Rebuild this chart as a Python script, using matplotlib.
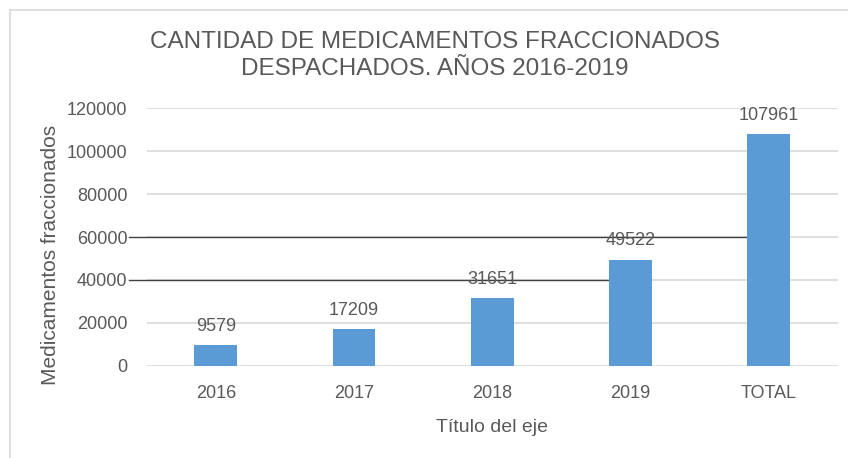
import matplotlib
import matplotlib.pyplot as plt
from matplotlib.patches import Rectangle

matplotlib.use("Agg")

categories = ["2016", "2017", "2018", "2019", "TOTAL"]
values = [9579, 17209, 31651, 49522, 107961]
y_ticks = [0, 20000, 40000, 60000, 80000, 100000, 120000]
# stray dark lines in the original: (level, category where they end)
dark_lines = [(60000, "TOTAL"), (40000, "2019")]

TEXT = "#595959"
NARROW = ["Liberation Sans Narrow", "Liberation Sans", "DejaVu Sans"]

fig = plt.figure(figsize=(8.48, 4.58), dpi=100)
ax = fig.add_axes([0.173, 0.201, 0.815, 0.563])

x = list(range(len(categories)))
bars = ax.bar(x, values, width=0.31, color="#5B9BD5", zorder=3)

ax.set_xlim(-0.5, len(categories) - 0.5)
ax.set_ylim(0, 120000)
ax.set_yticks(y_ticks)
ax.set_yticklabels([str(t) for t in y_ticks])
ax.set_xticks(x)
ax.set_xticklabels(categories)

for t in y_ticks:
    ax.axhline(t, color="#D9D9D9", lw=1.2, zorder=1)

for level, cat in dark_lines:
    end = categories.index(cat)
    ax.plot([-0.625, end], [level, level], color="#404040", lw=1.0,
            zorder=2, clip_on=False)

for rect, v in zip(bars, values):
    ax.annotate(str(v), (rect.get_x() + rect.get_width() / 2, v),
                xytext=(0, 7.5), textcoords="offset points",
                ha="center", va="bottom", fontsize=13, color=TEXT,
                family=NARROW, zorder=4)

for s in ax.spines.values():
    s.set_visible(False)
ax.tick_params(length=0, labelsize=13, labelcolor=TEXT)
ax.tick_params(axis="y", pad=14)
ax.tick_params(axis="x", pad=14)
for lab in ax.get_xticklabels() + ax.get_yticklabels():
    lab.set_family(NARROW)

ax.set_xlabel("Título del eje", fontsize=14, color=TEXT, family=NARROW,
              labelpad=12)
fig.text(0.060, 0.443, "Medicamentos fraccionados", rotation=90,
         ha="center", va="center", fontsize=15, color=TEXT,
         family="Liberation Sans")
fig.text(0.513, 0.878, "CANTIDAD DE MEDICAMENTOS FRACCIONADOS\n"
         "DESPACHADOS. AÑOS 2016-2019", ha="center", va="center",
         fontsize=17.5, color=TEXT, family="Liberation Sans",
         linespacing=1.3)

fig.patches.append(Rectangle((10 / 848, -0.1), 1.2, 1 - 10 / 458 + 0.1,
                             transform=fig.transFigure, fill=False,
                             edgecolor="#D9D9D9", lw=1.2))

fig.savefig("out.png", dpi=100)
